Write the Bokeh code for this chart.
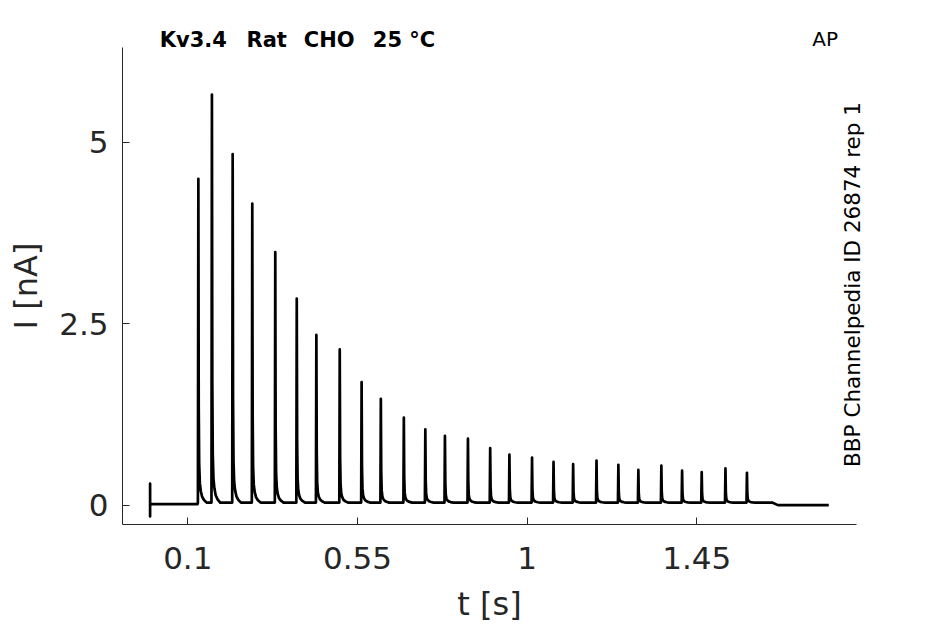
import math
from bokeh.plotting import figure
from bokeh.models import Range1d, FixedTicker, Label, LinearAxis
from bokeh.embed import file_html
from bokeh.resources import INLINE

# ---- data ----
spike_t = [0.128, 0.164, 0.219, 0.271, 0.332, 0.389, 0.441, 0.503, 0.561, 0.612,
           0.673, 0.730, 0.782, 0.843, 0.902, 0.953, 1.013, 1.070, 1.122, 1.184,
           1.242, 1.295, 1.356, 1.411, 1.463, 1.526, 1.583]
spike_peak = [4.50, 5.66, 4.84, 4.16, 3.49, 2.85, 2.35, 2.15, 1.70, 1.47,
              1.21, 1.05, 0.96, 0.92, 0.79, 0.70, 0.66, 0.60, 0.57, 0.62,
              0.56, 0.49, 0.55, 0.48, 0.46, 0.51, 0.45]
# shape of one response (time offset from peak [s], fraction of peak)
pulse_dt = [-0.0012, 0.0, 0.0010, 0.0022, 0.0040, 0.0065, 0.0100, 0.0150, 0.0220]
pulse_frac = [0.0, 1.0, 0.30, 0.12, 0.06, 0.035, 0.018, 0.008, 0.0]
# stretches outside the spikes
start_t = [0.0, 0.0, 0.0, 0.0]
start_i = [0.02, 0.30, -0.15, 0.02]
pre_level = 0.02
train_level = 0.04
end_t = [1.650, 1.665, 1.800]
end_i = [0.04, 0.005, 0.005]

x_ticks = [0.1, 0.55, 1.0, 1.45]
x_tick_labels = ["0.1", "0.55", "1", "1.45"]
y_ticks = [0.0, 2.5, 5.0]
y_tick_labels = ["0", "2.5", "5"]
x_axis_span = [-0.0732, 1.8736]
y_axis_span = [-0.2617, 6.3085]

title_words = ["Kv3.4", "Rat", "CHO", "25 °C"]
corner_text = "AP"
side_text = "BBP Channelpedia ID 26874 rep 1"

# ---- build the trace ----
t = list(start_t)
i = list(start_i)
t.append(spike_t[0] + pulse_dt[0] - 0.001)
i.append(pre_level)
for st, pk in zip(spike_t, spike_peak):
    for dt, fr in zip(pulse_dt, pulse_frac):
        t.append(st + dt)
        i.append(train_level + fr * (pk - train_level))
t += end_t
i += end_i

# ---- canvas / scales ----
W, H = 945, 624
PX_PER_S = 377.04
PX_PER_NA = 72.6
X0 = -0.39676
X1 = X0 + W / PX_PER_S
Y1 = 6.9559
Y0 = Y1 - H / PX_PER_NA


def sx(px):
    return X0 + px / PX_PER_S


def sy(py):
    return Y1 - py / PX_PER_NA


p = figure(width=W, height=H, output_backend="svg", toolbar_location=None,
           x_range=Range1d(X0, X1), y_range=Range1d(Y0, Y1),
           x_axis_location=None, y_axis_location=None,
           min_border_left=0, min_border_right=0, min_border_top=0,
           min_border_bottom=0)
p.background_fill_color = "white"
p.border_fill_color = "white"
p.outline_line_color = None
p.grid.visible = False

p.line(t, i, line_color="black", line_width=2.7, line_join="round")

xax = LinearAxis(fixed_location=y_axis_span[0], bounds=tuple(x_axis_span))
yax = LinearAxis(fixed_location=x_axis_span[0], bounds=tuple(y_axis_span))
p.add_layout(xax, "below")
p.add_layout(yax, "left")

axcol = "#262626"
for ax in (xax, yax):
    ax.axis_line_color = axcol
    ax.axis_line_width = 1
    ax.major_tick_line_color = axcol
    ax.major_tick_in = 7
    ax.major_tick_out = 0
    ax.minor_tick_line_color = None
    ax.major_label_text_font = "DejaVu Sans"
    ax.major_label_text_font_size = "31px"
    ax.major_label_text_color = axcol
    ax.axis_label_text_font = "DejaVu Sans"
    ax.axis_label_text_font_size = "32px"
    ax.axis_label_text_font_style = "normal"
    ax.axis_label_text_color = axcol

xax.ticker = FixedTicker(ticks=x_ticks)
xax.major_label_overrides = dict(zip(x_ticks, x_tick_labels))
yax.ticker = FixedTicker(ticks=y_ticks)
yax.major_label_overrides = dict(zip(y_ticks, y_tick_labels))
xax.axis_label = "t [s]"
yax.axis_label = "I [nA]"
xax.major_label_standoff = 23
xax.axis_label_standoff = 12
yax.major_label_standoff = 14
yax.axis_label_standoff = 11

word_px = [159.3, 246.0, 303.3, 372.3]
for wx, wd in zip(word_px, title_words):
    p.add_layout(Label(x=sx(wx), y=sy(39.5), text=wd,
                       text_font="DejaVu Sans", text_font_size="21px",
                       text_font_style="bold", text_color="black",
                       text_baseline="alphabetic", text_align="left"))
p.add_layout(Label(x=sx(811.7), y=sy(38.5), text=corner_text,
                   text_font="DejaVu Sans", text_font_size="20px",
                   text_color="black", text_baseline="alphabetic", text_align="left"))
p.add_layout(Label(x=sx(851.5), y=sy(284.0), text=side_text,
                   text_font="DejaVu Sans", text_font_size="21.5px",
                   text_color="black", angle=math.pi / 2,
                   text_baseline="alphabetic", text_align="center"))

open("out.html", "w").write(file_html(p, INLINE))
